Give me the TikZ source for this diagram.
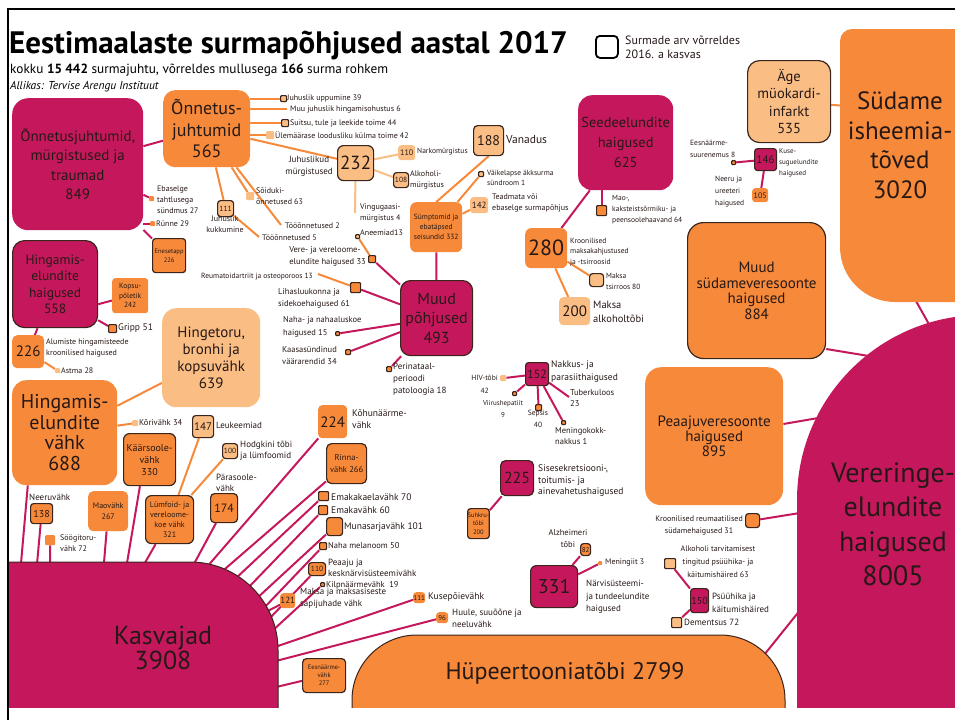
\documentclass[tikz,border=0pt]{standalone}
\usepackage{fontspec}
\setmainfont{PT Sans}
\definecolor{magc}{RGB}{197,24,92}
\definecolor{orgc}{RGB}{246,138,58}
\definecolor{lorgc}{RGB}{250,190,132}
\definecolor{edgec}{RGB}{58,36,28}
\definecolor{inkc}{RGB}{38,24,22}
\newcommand{\fsz}[2]{\fontsize{#1}{#2}\selectfont}
\pgfdeclarelayer{back}
\pgfsetlayers{back,main}
\tikzset{
  box/.style={inner sep=0, align=center, text=inkc, anchor=north west, rounded corners=3},
  mag/.style={box, fill=magc},
  org/.style={box, fill=orgc},
  lorg/.style={box, fill=lorgc},
  edged/.style={draw=edgec, line width=1.2},
  pip/.style={rounded corners=1},
  sz/.style 2 args={minimum width=#1, minimum height=#2},
  lbl/.style={anchor=west, align=left, inner sep=0, text=inkc, font=\fsz{8}{11}},
  mline/.style={draw=magc, line width=2},
  oline/.style={draw=orgc, line width=2},
  lline/.style={draw=lorgc, line width=2},
}
\begin{document}
\begin{tikzpicture}[x=1pt,y=-1pt]
\useasboundingbox (0,0) rectangle (955,720);
\begin{scope}
\clip (9,10) rectangle (955,707);
%Title
\node[anchor=base west, inner sep=0, font=\bfseries\fsz{31}{34}] (title) at (9,53) {Eestimaalaste surmapõhjused aastal 2017};
\node[anchor=base west, inner sep=0, font=\fsz{13.3}{15}] (sub) at (10,73) {kokku \textbf{15 442} surmajuhtu, võrreldes mullusega \textbf{166} surma rohkem};
\node[anchor=base west, inner sep=0, font=\itshape\fsz{11.5}{13}] (src) at (10,89) {Allikas: Tervise Arengu Instituut};
\node[draw=black, line width=1.8, rounded corners=4, sz={22}{22}, anchor=north west] (key) at (595,35) {};
\node[lbl, font=\fsz{12}{14}] (keyT) at (625,47) {Surmade arv võrreldes\\2016. a kasvas};
%Big shapes
\fill[orgc] (970,29) -- (852,29) arc[start angle=270, end angle=180, radius=12] -- (840,247) arc[start angle=180, end angle=90, radius=55] -- (970,302) -- cycle;
\fill[magc] (990,315) -- (982,315) arc[start angle=270, end angle=180, radius=185] -- (797,712) -- (990,712) -- cycle;
\filldraw[fill=magc, draw=edgec, line width=1] (8,562) -- (190,562) arc[start angle=270, end angle=360, radius=88] -- (278,712) -- (8,712) -- cycle;
\filldraw[fill=orgc, draw=edgec, line width=1] (352,712) -- (352,700) arc[start angle=180, end angle=270, radius=65] -- (720,635) arc[start angle=270, end angle=360, radius=65] -- (785,712) -- cycle;
\node[font=\fsz{25}{29.5}, text=inkc, align=center] (suda) at (900,145) {Südame\\isheemia-\\tõved\\3020};
\node[font=\fsz{28}{34.5}, text=inkc, align=center] (verer) at (893,524) {Vereringe-\\elundite\\haigused\\8005};
\node[font=\fsz{26}{25}, text=inkc, align=center] (kasv) at (163,648) {Kasvajad\\3908};
\node[font=\fsz{24}{26}, text=inkc] (hyper) at (565,673) {Hüpeertooniatõbi 2799};
\coordinate (sudaL) at (846,106);
\coordinate (sudaB) at (912,294);
\coordinate (verT) at (930,326);
\coordinate (verA) at (875,357);
\coordinate (verB) at (830,416);
\coordinate (verC) at (806,512);
\coordinate (verD) at (805,604);
\coordinate (hypR) at (760,660);
%Accidents
\node[mag, sz={131}{132}, rounded corners=16, font=\fsz{15}{19.5}] (acc849) at (12,98) {Õnnetusjuhtumid,\\mürgistused ja\\traumad\\849};
\node[org, sz={87}{77}, rounded corners=12, font=\fsz{18}{21.5}] (acc565) at (163,90) {Õnnetus-\\juhtumid\\565};
\node[org, pip, sz={5}{5}] (ebas) at (149,196) {};
\node[lbl] (ebasT) at (157,200) {Ebaselge\\tahtlusega\\sündmus 27};
\node[org, pip, sz={5}{5}] (runne) at (150,221) {};
\node[lbl] (runneT) at (156,224) {Rünne 29};
\node[org, edged, sz={33}{34}, font=\fsz{6.5}{9}] (suic) at (152,238) {Enesetapp\\226};
\node[lorg, edged, pip, sz={6}{6}] (drown) at (280,95) {};
\node[lbl] (drownT) at (287,98) {Juhuslik uppumine 39};
\coordinate (choke) at (287,109);
\node[lbl] (chokeT) at (290,109) {Muu juhuslik hingamisohustus 6};
\node[lorg, edged, pip, sz={7}{7}] (smoke) at (281,119) {};
\node[lbl] (smokeT) at (290,123) {Suitsu, tule ja leekide toime 44};
\node[lorg, pip, sz={8}{8}] (cold) at (266,131) {};
\node[lbl] (coldT) at (275,135) {Ülemäärase loodusliku külma toime 42};
\node[lorg, edged, sz={36}{35}, rounded corners=6, font=\fsz{19}{20}] (pois232) at (337,145) {232};
\node[lbl, anchor=east, align=center, font=\fsz{9}{12}] (pois232T) at (333,166) {Juhuslikud\\mürgistused};
\node[lorg, sz={17}{15}, font=\fsz{8}{9}] (narko) at (398,145) {110};
\node[lbl, font=\fsz{7.5}{10}] (narkoT) at (417,152) {Narkomürgistus};
\node[lorg, edged, sz={15}{15}, font=\fsz{7.5}{9}] (alko) at (393,172) {108};
\node[lbl] (alkoT) at (410,180) {Alkoholi-\\mürgistus};
\coordinate (vingu) at (355,213);
\node[lbl] (vinguT) at (360,213) {Vingugaasi-\\mürgistus 4};
\node[lorg, pip, sz={8}{8}] (soid) at (246,192) {};
\node[lbl] (soidT) at (256,196) {Sõiduki-\\õnnetused 63};
\coordinate (too2) at (281,225);
\node[lbl] (too2T) at (285,226) {Tööõnnetused 2};
\node[lorg, edged, sz={16}{16}, font=\fsz{7.5}{9}] (fall) at (217,200) {111};
\node[lbl, anchor=north, align=center] (fallT) at (225,216) {Juhuslik\\kukkumine};
\coordinate (too5) at (259,237);
\node[lbl] (too5T) at (262,238) {Tööõnnetused 5};
%Respiratory
\node[mag, edged, sz={85}{87}, rounded corners=12, font=\fsz{13.5}{16.5}] (resp558) at (12,240) {Hingamis-\\elundite\\haigused\\558};
\node[org, sz={36}{35}, font=\fsz{7.5}{9.5}] (pneu) at (112,278) {Kopsu-\\põletik\\242};
\node[org, edged, pip, sz={8}{8}] (flu) at (108,324) {};
\node[lbl, font=\fsz{9.5}{11}] (fluT) at (118,328) {Gripp 51};
\node[org, sz={32}{33}, rounded corners=5, font=\fsz{15}{16}] (copd) at (12,335) {226};
\node[lbl] (copdT) at (46,348) {Alumiste hingamisteede\\kroonilised haigused};
\node[lorg, pip, sz={5}{5}] (asth) at (55,368) {};
\node[lbl] (asthT) at (61,371) {Astma 28};
%Cancers
\node[org, sz={105}{105}, rounded corners=14, font=\fsz{20}{20.5}] (respca) at (12,380) {Hingamis-\\elundite\\vähk\\688};
\node[lorg, sz={98}{99}, rounded corners=14, font=\fsz{15}{17}] (lung) at (162,308) {Hingetoru,\\bronhi ja\\kopsuvähk\\639};
\node[lorg, pip, sz={6}{6}] (lar) at (132,420) {};
\node[lbl, font=\fsz{8.5}{11}] (larT) at (139,423) {Kõrivähk 34};
\node[org, edged, sz={52}{52}, rounded corners=6, font=\fsz{10}{12}] (colo) at (123,433) {Käärsoole-\\vähk\\330};
\node[lorg, edged, sz={21}{22}, font=\fsz{11}{12}] (leuk) at (192,415) {147};
\node[lbl, font=\fsz{9}{11}] (leukT) at (216,425) {Leukeemiad};
\node[lorg, edged, sz={15}{15}, font=\fsz{7.5}{9}] (hodg) at (222,443) {100};
\node[lbl, font=\fsz{9}{11}] (hodgT) at (240,451) {Hodgkini tõbi\\ja lümfoomid};
\node[org, edged, sz={48}{48}, rounded corners=6, font=\fsz{8}{10}] (lymph) at (145,495) {Lümfoid- ja\\vereloome-\\koe vähk\\321};
\node[org, edged, sz={27}{29}, rounded corners=4, font=\fsz{12}{13}] (rect) at (210,493) {174};
\node[lbl, font=\fsz{9}{11}] (rectT) at (216,483) {Pärasoole-\\vähk};
\node[org, edged, sz={22}{20}, font=\fsz{10}{11}] (kidca) at (30,503) {138};
\node[lbl, anchor=south west, font=\fsz{9}{11}] (kidcaT) at (29,501) {Neeruvähk};
\node[org, sz={40}{40}, rounded corners=5, font=\fsz{8}{11}] (stom) at (88,491) {Maovähk\\267};
\node[org, pip, sz={10}{10}] (esoph) at (45,535) {};
\node[lbl] (esophT) at (60,543) {Söögitoru-\\vähk 72};
\node[org, sz={29}{33}, rounded corners=4, font=\fsz{15}{16}] (panc) at (318,405) {224};
\node[lbl, font=\fsz{9.5}{12}] (pancT) at (352,419) {Kõhunäärme-\\vähk};
\node[org, edged, sz={40}{40}, rounded corners=5, font=\fsz{8.5}{12}] (breast) at (326,443) {Rinna-\\vähk 266};
\node[org, edged, pip, sz={10}{9}] (cerv) at (318,491) {};
\node[lbl, font=\fsz{9.5}{11}] (cervT) at (331,497) {Emakakaelavähk 70};
\node[org, edged, pip, sz={9}{9}] (uter) at (318,505) {};
\node[lbl, font=\fsz{9.5}{11}] (uterT) at (331,510) {Emakavähk 60};
\node[org, edged, sz={16}{18}] (ovar) at (326,517) {};
\node[lbl, font=\fsz{9.5}{11}] (ovarT) at (344,527) {Munasarjavähk 101};
\node[org, edged, pip, sz={7}{7}] (mel) at (319,542) {};
\node[lbl, font=\fsz{8.5}{11}] (melT) at (328,546) {Naha melanoom 50};
\node[org, edged, sz={17}{13}, font=\fsz{7.5}{9}] (brain) at (308,562) {110};
\node[lbl, font=\fsz{9}{11}] (brainT) at (328,568) {Peaaju ja\\kesknärvisüsteemivähk};
\node[org, edged, pip, sz={4}{4}] (thyr) at (320,582) {};
\node[lbl, font=\fsz{8.5}{11}] (thyrT) at (326,585) {Kilpnäärmevähk\ \ 19};
\node[org, sz={15}{15}, font=\fsz{9}{10}] (liv121) at (280,593) {121};
\node[lbl, font=\fsz{9}{12}] (liv121T) at (300,598) {Maksa ja maksasiseste\\sapijuhade vähk};
\node[org, sz={12}{11}, font=\fsz{7}{8}] (blad) at (413,592) {111};
\node[lbl, font=\fsz{9.5}{11}] (bladT) at (428,597) {Kusepõievähk};
\node[org, sz={12}{11}, font=\fsz{7}{8}] (lip) at (436,612) {96};
\node[lbl, font=\fsz{9}{12}] (lipT) at (452,618) {Huule, suuõõne ja\\neeluvähk};
\node[org, edged, sz={43}{34}, rounded corners=4, font=\fsz{6.5}{8}] (prost) at (302,658) {Eesnäärme-\\vähk\\277};
\coordinate (k1) at (20,575);
\coordinate (k2) at (36,575);
\coordinate (k3) at (50,575);
\coordinate (k4) at (103,575);
\coordinate (k5) at (125,575);
\coordinate (k6) at (138,575);
\coordinate (k7) at (188,575);
\coordinate (k8) at (200,575);
\coordinate (k9) at (218,575);
\coordinate (k10) at (234,580);
\coordinate (k11) at (246,590);
\coordinate (k12) at (255,600);
\coordinate (k13) at (262,610);
\coordinate (k14) at (268,620);
\coordinate (k15) at (271,632);
\coordinate (k16) at (262,614);
\coordinate (k17) at (272,648);
\coordinate (k18) at (272,662);
\coordinate (k19) at (272,688);
%Other causes
\node[lorg, edged, sz={30}{30}, rounded corners=4, font=\fsz{14}{15}] (old) at (473,125) {188};
\node[lbl, font=\fsz{11.5}{13}] (oldT) at (506,140) {Vanadus};
\node[org, sz={52}{50}, rounded corners=6, font=\fsz{7.5}{10}] (sympt) at (410,202) {Sümptomid ja\\ebatäpsed\\seisundid 332};
\node[lorg, edged, pip, sz={5}{5}] (sids) at (478,171) {};
\node[lbl, font=\fsz{7.5}{10.5}] (sidsT) at (487,178) {Väikelapse äkksurma\\sündroom 1};
\node[lorg, sz={18}{16}, font=\fsz{9}{10}] (unk) at (470,197) {142};
\node[lbl, font=\fsz{8}{11}] (unkT) at (492,203) {Teadmata või\\ebaselge surmapõhjus};
\node[mag, edged, sz={72}{75}, rounded corners=10, font=\fsz{16}{19.5}] (other) at (400,280) {Muud\\põhjused\\493};
\node[lorg, edged, pip, sz={4}{4}] (anem) at (355,234) {};
\node[lbl] (anemT) at (360,233) {Aneemiad13};
\node[org, edged, pip, sz={7}{7}] (blood) at (368,255) {};
\node[lbl, anchor=east, font=\fsz{8.5}{12}] (bloodT) at (366,256) {Vere- ja vereloome-\\elundite haigused 33};
\coordinate (reuma) at (318,274);
\node[lbl, anchor=east, font=\fsz{7.5}{10}] (reumaT) at (313,277) {Reumatoidartriit ja osteoporoos 13};
\node[org, edged, pip, sz={10}{10}] (musc) at (350,282) {};
\node[lbl, font=\fsz{8.5}{12}] (muscT) at (278,298) {Lihasluukonna ja\\sidekoehaigused 61};
\node[org, edged, pip, sz={4}{4}] (skin) at (335,331) {};
\node[lbl, font=\fsz{8.5}{12.5}] (skinT) at (283,327) {Naha- ja nahaaluskoe\\haigused 15};
\node[org, edged, pip, sz={5}{5}] (cong) at (345,349) {};
\node[lbl, font=\fsz{8.5}{12}] (congT) at (282,356) {Kaasasündinud\\väärarendid 34};
\node[org, edged, pip, sz={5}{5}] (perin) at (386,366) {};
\node[lbl, anchor=north west, font=\fsz{9}{12}] (perinT) at (393,363) {Perinataal-\\perioodi\\patoloogia 18};
%Digestive
\node[mag, sz={95}{95}, rounded corners=14, font=\fsz{14.5}{20}] (dig) at (578,95) {Seedeelundite\\haigused\\625};
\node[org, edged, pip, sz={10}{10}] (ulcer) at (596,205) {};
\node[lbl, font=\fsz{7.5}{11}] (ulcerT) at (612,210) {Mao-,\\kaksteistsõrmiku- ja\\peensoolehaavand 64};
\node[org, sz={42}{40}, rounded corners=6, font=\fsz{22}{22}] (liv280) at (525,228) {280};
\node[lbl, font=\fsz{7.5}{10.5}] (liv280T) at (570,252) {Kroonilised\\maksakahjustused\\ja -tsirroosid};
\node[lorg, edged, sz={14}{13}] (cirr) at (589,273) {};
\node[lbl, font=\fsz{7.5}{11}] (cirrT) at (606,281) {Maksa\\tsirroos 80};
\node[lorg, sz={31}{28}, rounded corners=4, font=\fsz{15}{16}] (alc200) at (559,297) {200};
\node[lbl, font=\fsz{10.5}{14}] (alc200T) at (593,312) {Maksa\\alkoholtõbi};
%Heart and vessels
\node[lorg, edged, sz={83}{82}, rounded corners=12, font=\fsz{14.5}{17.5}] (ami) at (747,60) {Äge\\müokardi-\\infarkt\\535};
\node[mag, edged, sz={22}{22}, font=\fsz{11}{12}] (uro) at (754,148) {146};
\node[lbl, font=\fsz{7}{11}] (uroT) at (779,163) {Kuse-\\suguelundite\\haigused};
\node[org, edged, pip, sz={4}{4}] (bph) at (731,160) {};
\node[lbl, font=\fsz{7.5}{12}] (bphT) at (690,149) {Eesnäärme-\\suurenemus 8};
\node[org, sz={16}{14}, font=\fsz{8}{9}] (kidn) at (752,188) {105};
\node[lbl, font=\fsz{7.5}{12}] (kidnT) at (715,192) {Neeru ja\\ureeteri\\haigused};
\node[org, edged, sz={138}{136}, rounded corners=16, font=\fsz{15}{15.5}] (othcv) at (687,222) {Muud\\südameveresoonte\\haigused\\884};
\node[org, sz={138}{138}, rounded corners=16, font=\fsz{15}{15}] (cereb) at (645,367) {Peaajuveresoonte\\haigused\\895};
\node[org, edged, sz={14}{14}] (rheum) at (745,513) {};
\node[lbl, anchor=east, align=center, font=\fsz{8}{12}] (rheumT) at (743,526) {Kroonilised reumaatilised\\südamehaigused 31};
\node[lorg, edged, pip, sz={11}{10}] (alcmh) at (664,558) {};
\node[lbl, anchor=center, align=center, font=\fsz{8}{13}] (alcmhT) at (718,562) {Alkoholi tarvitamisest\\tingitud psüühika- ja\\käitumishäired 63};
\node[mag, edged, sz={18}{24}, font=\fsz{10}{11}] (mh) at (690,588) {150};
\node[lbl, font=\fsz{9}{13}] (mhT) at (712,603) {Psüühika ja\\käitumishäired};
\node[lorg, edged, pip, sz={10}{10}] (dement) at (671,617) {};
\node[lbl, font=\fsz{9}{11}] (dementT) at (684,622) {Dementsus 72};
%Nerves, endocrine, infections
\node[mag, edged, sz={47}{42}, rounded corners=6, font=\fsz{20}{21}] (nerv) at (530,565) {331};
\node[lbl, font=\fsz{9}{12.5}] (nervT) at (586,597) {Närvisüsteemi-\\ja tundeelundite\\haigused};
\node[org, edged, sz={10}{12}, font=\fsz{7}{8}] (alz) at (580,543) {82};
\node[lbl, anchor=center, align=center, font=\fsz{8.5}{12}] (alzT) at (568,539) {Alzheimeri\\tõbi};
\node[org, pip, sz={4}{4}] (mening) at (598,561) {};
\node[lbl] (meningT) at (605,563) {Meningiit 3};
\node[mag, edged, sz={33}{35}, rounded corners=5, font=\fsz{16}{17}] (endo) at (500,460) {225};
\node[lbl, font=\fsz{9.5}{11.5}] (endoT) at (538,481) {Sisesekretsiooni-,\\toitumis- ja\\ainevahetushaigused};
\node[org, edged, sz={18}{30}, font=\fsz{6.5}{8.5}] (diab) at (467,508) {Suhkru-\\tõbi\\200};
\node[mag, edged, sz={23}{23}, font=\fsz{12}{13}] (inf) at (525,362) {152};
\node[lbl, font=\fsz{9.5}{13}] (infT) at (551,372) {Nakkus- ja\\parasiithaigused};
\node[lorg, pip, sz={6}{6}] (hiv) at (500,375) {};
\node[lbl, anchor=east, align=center, font=\fsz{7.5}{13}] (hivT) at (498,384) {HIV-tõbi\\42};
\node[org, edged, pip, sz={4}{4}] (hep) at (512,391) {};
\node[lbl, anchor=center, align=center, font=\fsz{7}{12}] (hepT) at (503,409) {Viirushepatiit\\9};
\node[org, edged, pip, sz={6}{6}] (seps) at (535,404) {};
\node[lbl, anchor=center, align=center, font=\fsz{7.5}{12}] (sepsT) at (538,419) {Sepsis\\40};
\coordinate (tb) at (569,397);
\node[lbl, font=\fsz{8.5}{11}] (tbT) at (570,398) {Tuberkuloos\\23};
\node[org, edged, pip, sz={4}{4}] (menk) at (561,420) {};
\node[lbl, font=\fsz{8.5}{11}] (menkT) at (555,436) {Meningokokk-\\nakkus 1};
\end{scope}
\draw[line width=2] (8,720) -- (8,9) -- (955,9);
%Connectors
\begin{pgfonlayer}{back}
\draw[mline] (acc849) -- (acc565);
\draw[mline] (acc849) -- (ebas);
\draw[mline] (acc849.east |- runne) -- (runne);
\draw[mline] (acc849) -- (suic);
\draw[oline] (acc565.east |- drown) -- (drown);
\draw[oline] (acc565.east |- choke) -- (choke);
\draw[oline] (acc565.east |- smoke) -- (smoke);
\draw[oline] (acc565.east |- cold) -- (cold);
\draw[oline] (acc565) -- (pois232);
\draw[oline] (acc565) -- (soid);
\draw[oline] (acc565) -- (too2);
\draw[oline] (acc565) -- (fall);
\draw[oline] (fall) -- (too5);
\draw[lline] (pois232) -- (narko);
\draw[lline] (pois232) -- (alko);
\draw[lline] (pois232) -- (vingu);
\draw[mline] (resp558.-25) -- (pneu);
\draw[mline] (resp558.-40) -- (flu);
\draw[mline] (resp558) -- (copd);
\draw[oline] (copd) -- (asth);
\draw[oline] (respca) -- (lung);
\draw[oline] (respca) -- (lar);
\draw[mline] (respca.-125) -- (k1);
\draw[mline] (kidca) -- (k2);
\draw[mline] (esoph) -- (k3);
\draw[mline] (stom) -- (k4);
\draw[mline] (colo.-110) -- (k5);
\draw[mline] (lymph) -- (k6);
\draw[oline] (lymph) -- (leuk);
\draw[oline] (lymph) -- (hodg);
\draw[mline] (rect) -- (k7);
\draw[mline] (panc) -- (k8);
\draw[mline] (breast) -- (k9);
\draw[mline] (cerv) -- (k10);
\draw[mline] (uter) -- (k11);
\draw[mline] (ovar) -- (k12);
\draw[mline] (mel) -- (k13);
\draw[mline] (brain) -- (k14);
\draw[mline] (thyr) -- (k15);
\draw[mline] (liv121) -- (k16);
\draw[mline] (blad) -- (k17);
\draw[mline] (lip) -- (k18);
\draw[mline] (prost) -- (k19);
\draw[oline] (sympt.north) -- (old.south);
\draw[oline] (sympt) -- (sids);
\draw[oline] (sympt) -- (unk);
\draw[mline] (other) -- (sympt);
\draw[mline] (other) -- (blood);
\draw[oline] (blood) -- (anem);
\draw[mline] (other) -- (musc);
\draw[oline] (musc) -- (reuma);
\draw[mline] (other) -- (skin);
\draw[mline] (other) -- (cong);
\draw[mline] (other) -- (perin);
\draw[mline] (dig.south -| ulcer) -- (ulcer);
\draw[mline] (dig) -- (liv280);
\draw[oline] (liv280) -- (cirr);
\draw[oline] (liv280) -- (alc200);
\draw[oline] (ami) -- (sudaL);
\draw[mline] (uro) -- (bph);
\draw[mline] (uro) -- (kidn);
\draw[mline] (sudaB) -- (verT);
\draw[mline] (othcv.-40) -- (verA);
\draw[mline] (cereb.10) -- (verB);
\draw[mline] (rheum) -- (verC);
\draw[mline] (hypR) -- (verD);
\draw[mline] (alcmh) -- (mh);
\draw[mline] (mh) -- (dement);
\draw[mline] (nerv) -- (alz);
\draw[mline] (nerv) -- (mening);
\draw[mline] (endo) -- (diab);
\draw[mline] (inf) -- (hiv);
\draw[mline] (inf) -- (hep);
\draw[mline] (inf) -- (seps);
\draw[mline] (inf) -- (tb);
\draw[mline] (inf) -- (menk);
\end{pgfonlayer}
\end{tikzpicture}
\end{document}
